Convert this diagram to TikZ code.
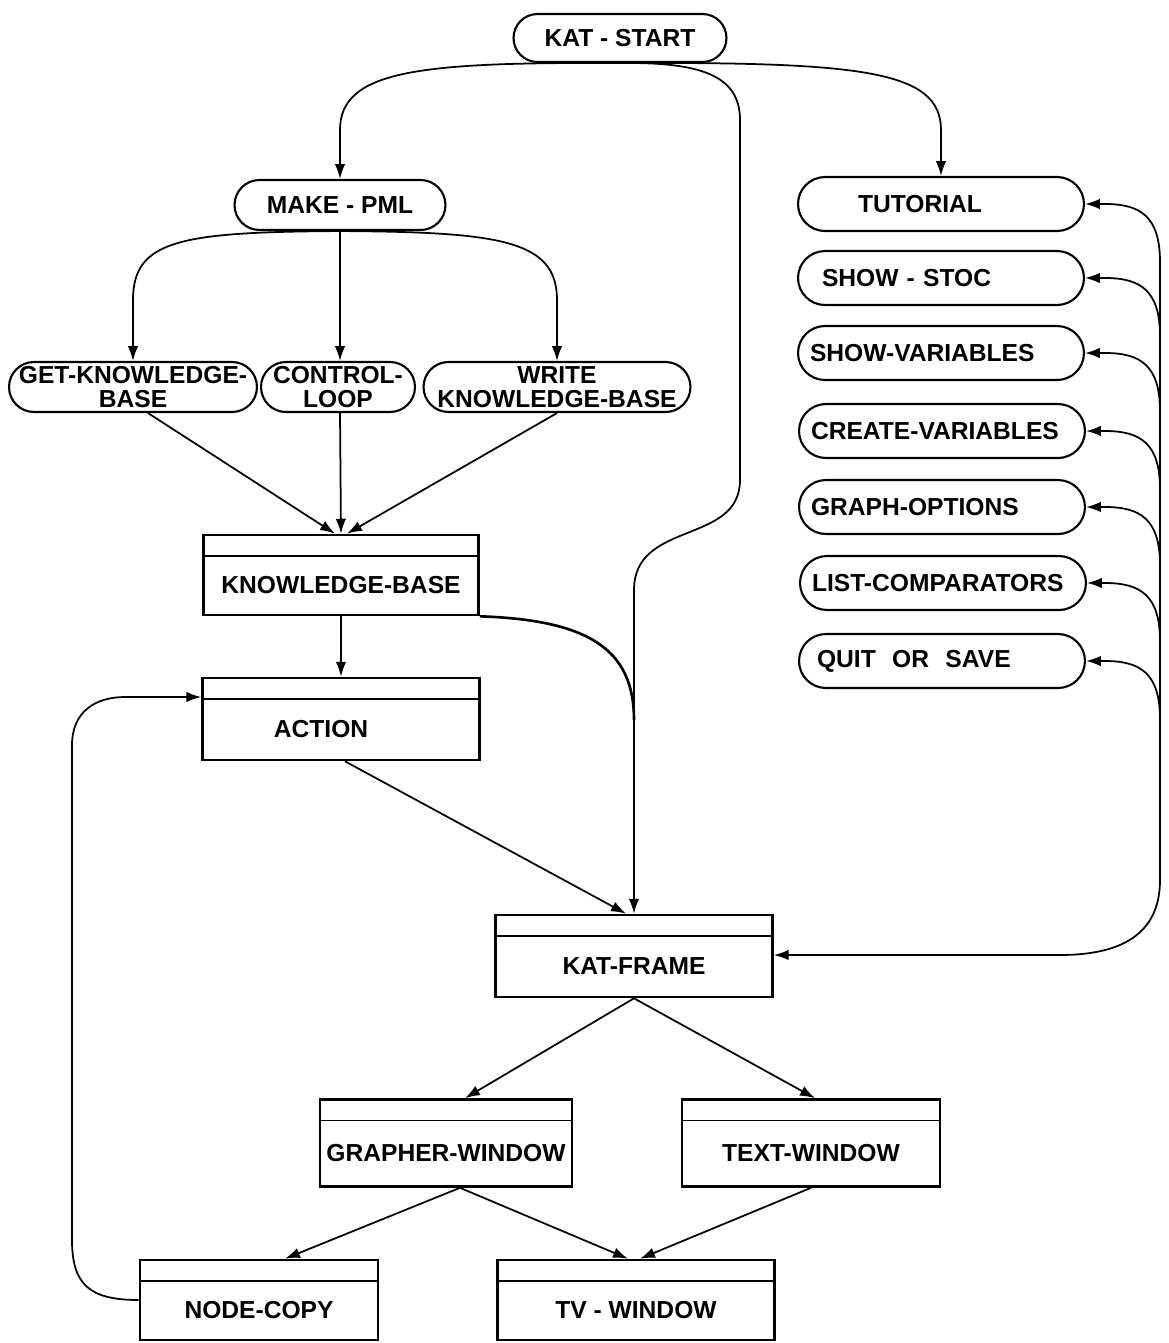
\documentclass[tikz,border=0pt]{standalone}
\usepackage{fontspec}
\newfontfamily\lbl{Liberation Sans}
\usetikzlibrary{arrows.meta,calc}
\tikzset{
  lbltext/.style={font=\lbl\bfseries\fontsize{14}{13.5}\selectfont},
  pill/.style={lbltext, draw, line width=1.2pt, rectangle, rounded corners=0.5cm,
    minimum height=1cm, inner xsep=2pt, inner ysep=0pt, align=center},
  rpill/.style={lbltext, draw, line width=1.2pt, rectangle, rounded corners=0.54cm,
    minimum height=1.08cm, minimum width=5.72cm, inner xsep=0.24cm, inner ysep=0pt,
    text width=5.24cm, align=left},
  stripbox/.style={lbltext, draw, line width=1.5pt, rectangle, inner sep=0pt,
    text height=21pt, text depth=0pt,
    path picture={\draw[line width=1pt] ([yshift=-0.42cm]path picture bounding box.north west) -- ([yshift=-0.42cm]path picture bounding box.north east);}},
  arr/.style={line width=1pt, -{Latex[length=8.5pt,width=6pt]}},
  ln/.style={line width=1pt}
}
\begin{document}
\begin{tikzpicture}[x=0.02cm,y=-0.02cm]
\useasboundingbox (0,0) rectangle (1169,1343);

% rounded nodes
\node[pill, minimum width=4.26cm, minimum height=0.96cm, rounded corners=0.48cm] (ks) at (620,38) {KAT - START};
\node[pill, minimum width=4.22cm] (mp) at (340,205) {MAKE - PML};
\node[pill, minimum width=4.96cm] (gkb) at (133,387) {GET-KNOWLEDGE-\\BASE};
\node[pill, minimum width=3.08cm] (cl) at (338,387) {CONTROL-\\LOOP};
\node[pill, minimum width=5.34cm] (wkb) at (557,387) {WRITE\\KNOWLEDGE-BASE};

\node[rpill] (tut) at (941,204) {\hspace*{0.96cm}TUTORIAL};
\node[rpill] (ss) at (941,278) {\hspace*{0.24cm}SHOW - STOC};
\node[rpill] (sv) at (941,353) {SHOW-VARIABLES};
\node[rpill] (cv) at (942,431) {CREATE-VARIABLES};
\node[rpill] (go) at (942,507) {GRAPH-OPTIONS};
\node[rpill] (lc) at (943,583) {LIST-COMPARATORS};
\node[rpill] (qs) at (942,661) {\hspace*{0.12cm}QUIT\ \ OR\ \ SAVE};

% boxes
\node[stripbox, minimum width=5.5cm, minimum height=1.6cm] (kb) at (341,575) {KNOWLEDGE-BASE};
\node[stripbox, minimum width=5.54cm, minimum height=1.64cm] (act) at (341,719) {ACTION\hspace*{0.8cm}};
\node[stripbox, minimum width=5.54cm, minimum height=1.64cm] (kf) at (634,956) {KAT-FRAME};
\node[stripbox, minimum width=5.04cm, minimum height=1.74cm] (gw) at (446,1143) {GRAPHER-WINDOW};
\node[stripbox, minimum width=5.16cm, minimum height=1.74cm] (tw) at (811,1143) {TEXT-WINDOW};
\node[stripbox, minimum width=4.76cm, minimum height=1.6cm] (nc) at (259,1300) {NODE-COPY};
\node[stripbox, minimum width=5.54cm, minimum height=1.6cm] (tv) at (636,1300) {TV - WINDOW};

% from KAT-START
\draw[arr] (ks.south) .. controls (420,62) and (340,70) .. (340,130) -- (mp.north);
\draw[arr] (ks.south) .. controls (860,62) and (941,70) .. (941,130) -- (tut.north);
\draw[arr] (ks.south) .. controls (700,62) and (740,75) .. (740,120) -- (740,480)
  .. controls (740,545) and (634,520) .. (634,590) -- (kf.north);

% from MAKE-PML
\draw[arr] (mp.south) .. controls (180,232) and (133,240) .. (133,300) -- (gkb.north);
\draw[arr] (mp.south) -- (cl.north -| mp.south);
\draw[arr] (mp.south) .. controls (500,232) and (557,240) .. (557,300) -- (wkb.north);

% into KNOWLEDGE-BASE
\draw[arr] ([xshift=0.3cm]gkb.south) -- ([xshift=-0.12cm]kb.north);
\draw[arr] (cl.south -| mp.south) -- (kb.north);
\draw[arr] (wkb.south) -- ([xshift=0.12cm]kb.north);

\draw[arr] (kb.south) -- (act.north);
\coordinate (merge) at (634,720);
\draw[line width=1.5pt] (kb.south east) .. controls (590,620) and (634,650) .. (merge);
\draw[arr] ([xshift=0.08cm]act.south) -- ([xshift=-0.16cm]kf.north);

% lower part
\draw[arr] (kf.south) -- ([xshift=0.38cm]gw.north);
\draw[arr] (kf.south) -- ([xshift=0.08cm]tw.north);
\draw[arr] ([xshift=0.28cm]gw.south) -- ([xshift=0.52cm]nc.north);
\draw[arr] ([xshift=0.28cm]gw.south) -- ([xshift=-0.16cm]tv.north);
\draw[arr] (tw.south) -- ([xshift=0.08cm]tv.north);

% loop back from NODE-COPY to ACTION
\draw[arr] (nc.west) .. controls (90,1300) and (72,1285) .. (72,1240) -- (72,745)
  .. controls (72,712) and (95,697) .. (125,697) -- ([yshift=0.44cm]act.west);

% right bus
\coordinate (bt) at (1160,262);
\coordinate (bb) at (1160,880);
\draw[ln] (bt) -- (bb);
\draw[arr] (bb) .. controls (1160,935) and (1120,955) .. (1060,955) -- (kf.east |- 0,955);
\foreach \p/\yy in {tut/204, ss/278, sv/353, cv/431, go/507, lc/583, qs/661}{
  \draw[arr] (1160,\yy+58) .. controls (1160,\yy+12) and (1140,\yy) .. (1105,\yy) -- (\p.east);
}
\end{tikzpicture}
\end{document}
